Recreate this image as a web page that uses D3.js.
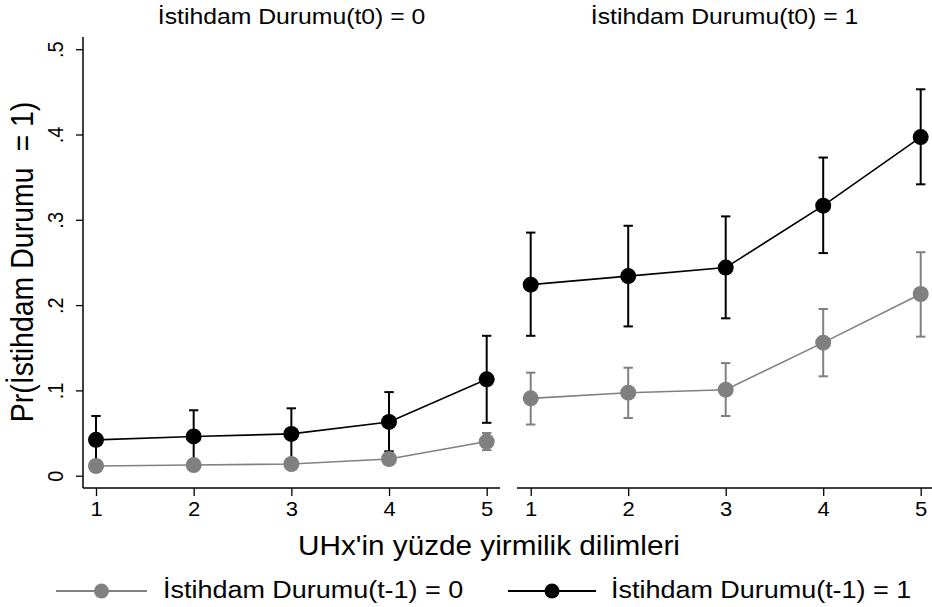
<!DOCTYPE html>
<html>
<head>
<meta charset="utf-8">
<script src="https://cdn.jsdelivr.net/npm/d3@7"></script>
<style>
  body { margin: 0; background: #fff; }
  svg { display: block; font-family: "Liberation Sans", Arial, sans-serif; }
</style>
</head>
<body>
<div id="chart-area"></div>
<script>
// Datos (probabilidades predichas con IC 95%)
var quintiles = [1, 2, 3, 4, 5];
var yTicks = [0, 0.1, 0.2, 0.3, 0.4, 0.5];
var yTickLabels = ["0", ".1", ".2", ".3", ".4", ".5"];
var panelTitles = ["İstihdam Durumu(t0) = 0", "İstihdam Durumu(t0) = 1"];
var seriesNames = ["İstihdam Durumu(t-1) = 0", "İstihdam Durumu(t-1) = 1"];

// Panel t0 = 0
var p0_prev0 = [0.0114, 0.0125, 0.0137, 0.0196, 0.040];
var p0_prev0_lo = [0.008, 0.009, 0.010, 0.015, 0.030];
var p0_prev0_hi = [0.015, 0.016, 0.018, 0.025, 0.050];
var p0_prev1 = [0.042, 0.046, 0.049, 0.063, 0.113];
var p0_prev1_lo = [0.014, 0.016, 0.019, 0.0286, 0.062];
var p0_prev1_hi = [0.070, 0.0767, 0.079, 0.098, 0.164];

// Panel t0 = 1
var p1_prev0 = [0.0907, 0.0973, 0.1008, 0.156, 0.213];
var p1_prev0_lo = [0.060, 0.0676, 0.070, 0.1165, 0.163];
var p1_prev0_hi = [0.1208, 0.1266, 0.132, 0.1954, 0.262];
var p1_prev1 = [0.224, 0.234, 0.244, 0.3166, 0.397];
var p1_prev1_lo = [0.164, 0.175, 0.1845, 0.261, 0.3416];
var p1_prev1_hi = [0.285, 0.293, 0.304, 0.373, 0.453];

var grayCol = "#808080", blackCol = "#000000";
var stretch = 1.1; // la imagen original está algo estirada en horizontal

var W = 932, H = 607;
var plotTop = 37, plotBottom = 488;

var svg = d3.select("#chart-area").append("svg")
    .attr("width", W).attr("height", H);

var y = d3.scaleLinear().domain([0, 0.5]).range([475.7, 49.2]);

var panels = [
    { x0: 83, x1: 500, range: [96, 486.7], title: panelTitles[0],
      series: [
        { v: p0_prev0, lo: p0_prev0_lo, hi: p0_prev0_hi, color: grayCol },
        { v: p0_prev1, lo: p0_prev1_lo, hi: p0_prev1_hi, color: blackCol }
      ] },
    { x0: 517, x1: 932, range: [530.7, 920.7], title: panelTitles[1],
      series: [
        { v: p1_prev0, lo: p1_prev0_lo, hi: p1_prev0_hi, color: grayCol },
        { v: p1_prev1, lo: p1_prev1_lo, hi: p1_prev1_hi, color: blackCol }
      ] }
];

function stretchedText(g, x, yy, str, size, anchor, rot) {
    return g.append("text")
        .attr("transform", "translate(" + x + "," + yy + ") scale(" + stretch + ",1)" + (rot ? " rotate(" + rot + ")" : ""))
        .attr("text-anchor", anchor || "middle")
        .style("font-size", size + "px")
        .attr("fill", "#000")
        .text(str);
}

panels.forEach(function(p, pi) {
    var x = d3.scaleLinear().domain([1, 5]).range(p.range);
    var g = svg.append("g");

    // Eje X
    var xAxis = g.append("g")
        .attr("transform", "translate(0," + plotBottom + ")")
        .call(d3.axisBottom(x).tickValues(quintiles).tickSize(8).tickSizeOuter(0).tickFormat(d3.format("d")));
    xAxis.select(".domain").remove();
    xAxis.append("line")
        .attr("x1", p.x0).attr("x2", p.x1)
        .attr("stroke", "#000").attr("stroke-width", 1.5);
    xAxis.selectAll(".tick line").attr("stroke-width", 1.3);
    xAxis.selectAll(".tick text")
        .attr("y", 0).attr("dy", 0)
        .attr("transform", "translate(0,28) scale(" + stretch + ",1)")
        .style("font-size", "20px")
        .style("font-family", "Liberation Sans, Arial, sans-serif");

    // Eje Y solo en el panel izquierdo
    if (pi === 0) {
        var yAxis = g.append("g")
            .attr("transform", "translate(" + p.x0 + ",0)")
            .call(d3.axisLeft(y).tickValues(yTicks).tickSize(7)
                .tickFormat(function(d, i) { return yTickLabels[i]; }));
        yAxis.select(".domain").remove();
        yAxis.append("line")
            .attr("y1", plotTop).attr("y2", plotBottom)
            .attr("stroke", "#000").attr("stroke-width", 1.5);
        yAxis.selectAll(".tick line").attr("stroke-width", 1.3);
        yAxis.selectAll(".tick text")
            .attr("x", 0).attr("dy", 0)
            .attr("text-anchor", "middle")
            .attr("transform", "translate(-20,0) scale(" + stretch + ",1) rotate(-90)")
            .style("font-size", "20px")
            .style("font-family", "Liberation Sans, Arial, sans-serif");
    }

    // Título del panel
    stretchedText(g, (p.x0 + p.x1) / 2, 24, p.title, 22.5);

    // Barras de error (primero las negras, luego las grises)
    [1, 0].forEach(function(si) {
        var s = p.series[si];
        var eb = g.append("g").attr("stroke", s.color).attr("stroke-width", 2).attr("fill", "none");
        quintiles.forEach(function(q, i) {
            eb.append("line").attr("x1", x(q)).attr("x2", x(q))
                .attr("y1", y(s.lo[i])).attr("y2", y(s.hi[i]));
            [s.lo[i], s.hi[i]].forEach(function(v) {
                eb.append("line").attr("x1", x(q) - 4.7).attr("x2", x(q) + 4.7)
                    .attr("y1", y(v)).attr("y2", y(v));
            });
        });
    });

    // Líneas y marcadores
    p.series.forEach(function(s) {
        var line = d3.line()
            .x(function(d, i) { return x(quintiles[i]); })
            .y(function(d) { return y(d); });
        g.append("path").datum(s.v)
            .attr("d", line)
            .attr("fill", "none")
            .attr("stroke", s.color)
            .attr("stroke-width", 1.6);
        g.selectAll(null).data(s.v).enter().append("circle")
            .attr("cx", function(d, i) { return x(quintiles[i]); })
            .attr("cy", function(d) { return y(d); })
            .attr("r", 8)
            .attr("fill", s.color);
    });
});

// Título del eje Y
stretchedText(svg, 33, 262, "Pr(İstihdam Durumu  = 1)", 28.5, "middle", -90)
    .attr("xml:space", "preserve").style("white-space", "pre");

// Título del eje X
stretchedText(svg, 489, 555, "UHx'in yüzde yirmilik dilimleri", 27);

// Leyenda
var legendItems = [
    { name: seriesNames[0], color: grayCol, x1: 56, x2: 147, tx: 163 },
    { name: seriesNames[1], color: blackCol, x1: 508, x2: 596, tx: 611 }
];
var legend = svg.append("g").attr("class", "legend");
legendItems.forEach(function(d) {
    legend.append("line")
        .attr("x1", d.x1).attr("x2", d.x2)
        .attr("y1", 591).attr("y2", 591)
        .attr("stroke", d.color).attr("stroke-width", 1.8);
    legend.append("circle")
        .attr("cx", (d.x1 + d.x2) / 2).attr("cy", 591)
        .attr("r", 7.5).attr("fill", d.color);
    stretchedText(legend, d.tx, 598, d.name, 24.5, "start");
});
</script>
</body>
</html>
